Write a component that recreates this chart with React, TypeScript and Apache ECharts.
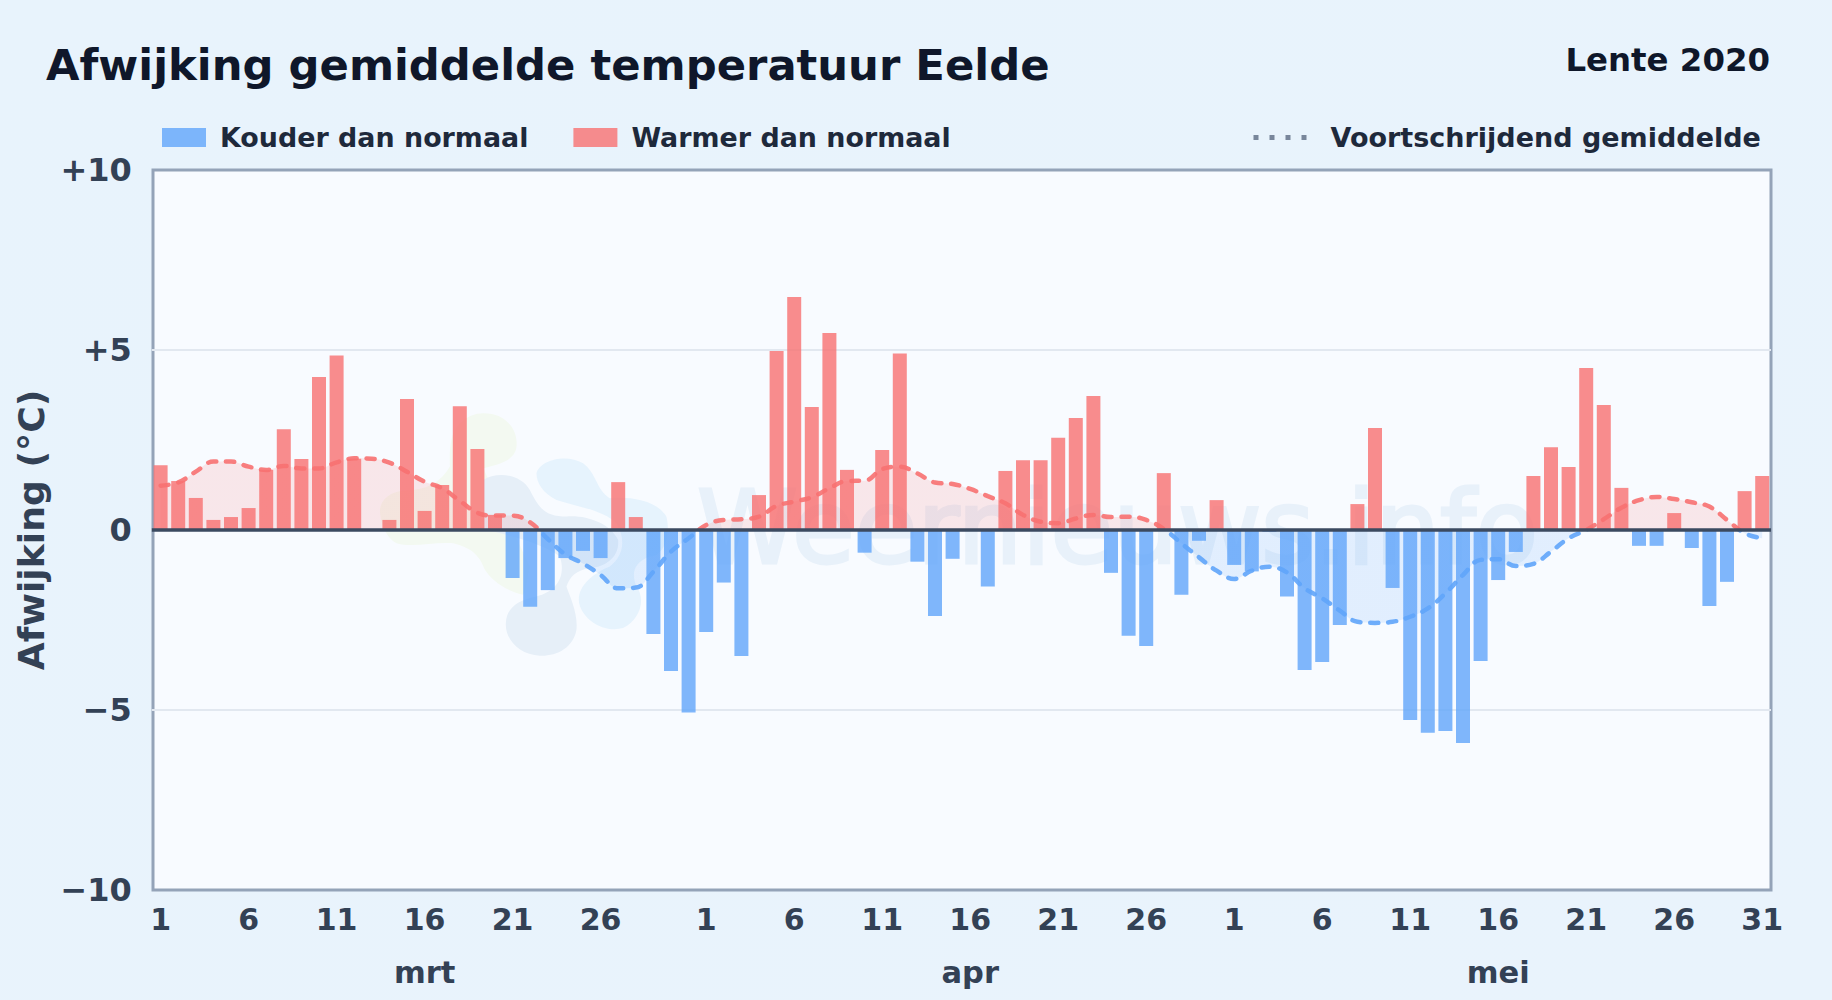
import React, { useEffect, useRef } from "react";
import * as echarts from "echarts";

const FONT = '"DejaVu Sans", sans-serif';

const marchValues = [1.8, 1.36, 0.89, 0.28, 0.36, 0.61, 1.67, 2.8, 1.97, 4.25, 4.85, 1.98, 0, 0.28, 3.64, 0.53, 1.25, 3.44, 2.25, 0.42, -1.33, -2.13, -1.67, -0.78, -0.58, -0.78, 1.33, 0.36, -2.89, -3.92, -5.07];
const aprilValues = [-2.83, -1.46, -3.5, 0.97, 4.97, 6.47, 3.42, 5.47, 1.67, -0.63, 2.22, 4.9, -0.88, -2.39, -0.8, 0, -1.57, 1.64, 1.94, 1.94, 2.56, 3.11, 3.72, -1.19, -2.94, -3.22, 1.58, -1.8, -0.3, 0.83];
const mayValues = [-0.97, -1.15, -0.05, -1.85, -3.89, -3.67, -2.64, 0.72, 2.83, -1.61, -5.28, -5.63, -5.58, -5.92, -3.64, -1.39, -0.61, 1.5, 2.3, 1.75, 4.5, 3.47, 1.17, -0.44, -0.44, 0.47, -0.5, -2.11, -1.44, 1.08, 1.5];

const marchAverage = [1.23, 1.32, 1.62, 1.9, 1.9, 1.76, 1.67, 1.78, 1.71, 1.71, 1.88, 1.99, 1.98, 1.87, 1.62, 1.34, 1.16, 0.81, 0.48, 0.4, 0.4, 0.21, -0.25, -0.68, -0.93, -1.25, -1.62, -1.6, -1.16, -0.6, -0.23];
const aprilAverage = [0.14, 0.28, 0.3, 0.37, 0.67, 0.79, 0.91, 1.16, 1.36, 1.37, 1.69, 1.76, 1.57, 1.32, 1.28, 1.14, 0.94, 0.74, 0.42, 0.23, 0.19, 0.32, 0.42, 0.36, 0.37, 0.28, 0.03, -0.37, -0.76, -1.13];
const mayAverage = [-1.36, -1.13, -1.02, -1.18, -1.62, -1.9, -2.24, -2.55, -2.58, -2.55, -2.41, -2.18, -1.76, -1.25, -0.83, -0.81, -1.0, -0.94, -0.6, -0.23, 0.0, 0.3, 0.62, 0.83, 0.92, 0.86, 0.77, 0.65, 0.28, -0.09, -0.23];

const monthNames = ["mrt", "apr", "mei"];
const monthLengths = [31, 30, 31];
const dayTicks = [
  [1, 6, 11, 16, 21, 26],
  [1, 6, 11, 16, 21, 26],
  [1, 6, 11, 16, 21, 26, 31],
];
const monthLabelDay = 16;
const yTickLabels: Record<string, string> = { "10": "+10", "5": "+5", "0": "0", "-5": "\u22125", "-10": "\u221210" };

const values = [...marchValues, ...aprilValues, ...mayValues];
const average = [...marchAverage, ...aprilAverage, ...mayAverage];
const days: string[] = [];
const dayShown: boolean[] = [];
const monthShown: string[] = [];
monthLengths.forEach((len, m) => {
  for (let d = 1; d <= len; d++) {
    days.push(String(d));
    dayShown.push(dayTicks[m].includes(d));
    monthShown.push(d === monthLabelDay ? monthNames[m] : "");
  }
});
const colder = values.map((v) => (v < 0 ? v : null));
const warmer = values.map((v) => (v > 0 ? v : null));

const BLOB_GREEN = "M340 40C410 40 445 90 440 140C435 185 380 195 340 205L480 500C470 540 470 570 460 585C400 570 365 540 345 510C330 470 310 445 250 430C190 425 130 445 80 430C50 415 30 370 30 330C35 290 70 272 120 270C170 270 215 245 240 200C238 150 240 100 270 70C290 50 315 40 340 40Z";
const BLOB_SLATE = "M340 240C380 215 450 220 480 270C510 330 530 350 590 350C650 345 720 370 745 420C750 470 710 500 660 505C620 510 600 530 590 560C600 590 625 640 620 690C610 745 560 770 510 768C450 765 405 720 408 670C410 620 450 600 500 590C560 575 590 530 570 470C520 430 400 400 340 390Z";
const BLOB_SKY = "M500 220C510 180 590 160 640 190C680 220 680 270 720 295C780 290 860 300 890 350C905 410 880 470 840 470C790 490 785 520 800 560C830 600 810 660 760 685C700 700 640 660 628 610C620 560 670 520 720 500C760 470 770 420 740 370C700 330 620 320 560 300C520 280 500 250 500 220Z";
echarts.graphic.registerShape("blobGreen", echarts.graphic.extendPath(BLOB_GREEN, {}));
echarts.graphic.registerShape("blobSlate", echarts.graphic.extendPath(BLOB_SLATE, {}));
echarts.graphic.registerShape("blobSky", echarts.graphic.extendPath(BLOB_SKY, {}));

export default function App() {
  const ref = useRef<HTMLDivElement>(null);
  useEffect(() => {
    const chart = echarts.init(ref.current!, undefined, { renderer: "svg" });
    const blob = (type: string, fill: string) => ({
      type, x: 370, y: 400, scaleX: 1 / 3, scaleY: 1 / 3, z: -1, silent: true, style: { fill },
    });
    chart.setOption({
      animation: false,
      backgroundColor: {
        type: "linear", x: 0, y: 0, x2: 1, y2: 1,
        colorStops: [{ offset: 0, color: "#e8f3fc" }, { offset: 1, color: "#e9f3fc" }],
      },
      textStyle: { fontFamily: FONT },
      title: [
        { text: "Afwijking gemiddelde temperatuur Eelde", left: 46, top: 43, padding: 0, textStyle: { fontFamily: FONT, fontWeight: "bold", fontSize: 43.3, color: "#0f172a" } },
        { text: "Lente 2020", right: 62, top: 44, padding: 0, textStyle: { fontFamily: FONT, fontWeight: "bold", fontSize: 32.4, color: "#0f172a" } },
      ],
      graphic: [
        { type: "rect", z: -3, silent: true, shape: { x: 153, y: 170, width: 1618, height: 720 }, style: { fill: "#f8fbff", stroke: "#94a3b8", lineWidth: 3 } },
        blob("blobGreen", "#f3f9f1"),
        blob("blobSlate", "#e6eff8"),
        blob("blobSky", "#e6f3fd"),
        { type: "text", z: -1, silent: true, x: 697, y: 476, style: { text: "Weernieuws.info", font: `102px ${FONT}`, fill: "#e8f1fa", stroke: "#e8f1fa", lineWidth: 3 } },
      ],
      legend: [
        {
          left: 162, top: 124, itemWidth: 44, itemHeight: 19, itemGap: 45, padding: 0,
          selectedMode: false,
          data: [
            { name: "Kouder dan normaal", icon: "rect" },
            { name: "Warmer dan normaal", icon: "rect" },
          ],
          textStyle: { fontFamily: FONT, fontWeight: "bold", fontSize: 26.9, color: "#1e293b", padding: [0, 0, 0, 9] },
        },
        {
          left: 1251, top: 124, itemWidth: 56, itemHeight: 19, padding: 0,
          selectedMode: false,
          data: [{ name: "Voortschrijdend gemiddelde", itemStyle: { color: "#6b7a90", opacity: 0 }, lineStyle: { color: "#6b7a90", type: [5, 11], width: 5, cap: "butt" } }],
          textStyle: { fontFamily: FONT, fontWeight: "bold", fontSize: 27, color: "#1e293b", padding: [0, 0, 0, 16] },
        },
      ],
      grid: { left: 151.8, top: 170, width: 1619.2, height: 720, containLabel: false },
      xAxis: [
        {
          type: "category", data: days, position: "bottom",
          axisLine: { show: false }, axisTick: { show: false }, splitLine: { show: false },
          axisLabel: {
            interval: (i: number) => dayShown[i], margin: 14, hideOverlap: false,
            fontFamily: FONT, fontWeight: "bold", fontSize: 30, color: "#334155",
          },
        },
        {
          type: "category", data: monthShown, position: "bottom", offset: 53,
          axisLine: { show: false }, axisTick: { show: false }, splitLine: { show: false },
          axisLabel: {
            interval: (i: number) => monthShown[i] !== "", margin: 14,
            fontFamily: FONT, fontWeight: "bold", fontSize: 30.5, color: "#334155",
          },
        },
      ],
      yAxis: {
        type: "value", min: -10, max: 10, interval: 5,
        name: "Afwijking (\u00b0C)", nameLocation: "middle", nameRotate: 90, nameGap: 84,
        nameTextStyle: { fontFamily: FONT, fontWeight: "bold", fontSize: 36.2, color: "#334155" },
        axisLine: { show: false }, axisTick: { show: false },
        splitLine: { show: true, showMinLine: false, showMaxLine: false, lineStyle: { color: "#e2e8f0", width: 2 } },
        axisLabel: {
          margin: 20, formatter: (v: number) => yTickLabels[String(v)],
          fontFamily: FONT, fontWeight: "bold", fontSize: 32, color: "#334155",
        },
      },
      visualMap: {
        show: false, type: "piecewise", seriesIndex: 2, dimension: 1,
        pieces: [{ gte: -20, lt: 0, color: "#60a5fa" }, { gte: 0, lte: 20, color: "#f87171" }],
      },
      series: [
        { name: "Kouder dan normaal", type: "bar", stack: "day", barWidth: 14, data: colder, z: 2, silent: true, itemStyle: { color: "rgba(96,165,250,0.8)" } },
        { name: "Warmer dan normaal", type: "bar", stack: "day", barWidth: 14, data: warmer, z: 2, silent: true, itemStyle: { color: "rgba(248,113,113,0.8)" } },
        {
          name: "Voortschrijdend gemiddelde", type: "line", data: average, z: 3, silent: true,
          smooth: 0.4, showSymbol: false, symbol: "none",
          lineStyle: { width: 4.5, type: [8, 10], cap: "round", opacity: 0.9 },
          areaStyle: { opacity: 0.15 },
          markLine: {
            silent: true, symbol: "none", z: 10, animation: false,
            label: { show: false },
            lineStyle: { color: "#3b4a60", width: 3.5, type: "solid" },
            data: [{ yAxis: 0 }],
          },
        },
      ],
    });
    return () => chart.dispose();
  }, []);
  return <div ref={ref} style={{ position: "fixed", left: 0, top: 0, width: 1832, height: 1000 }} />;
}
